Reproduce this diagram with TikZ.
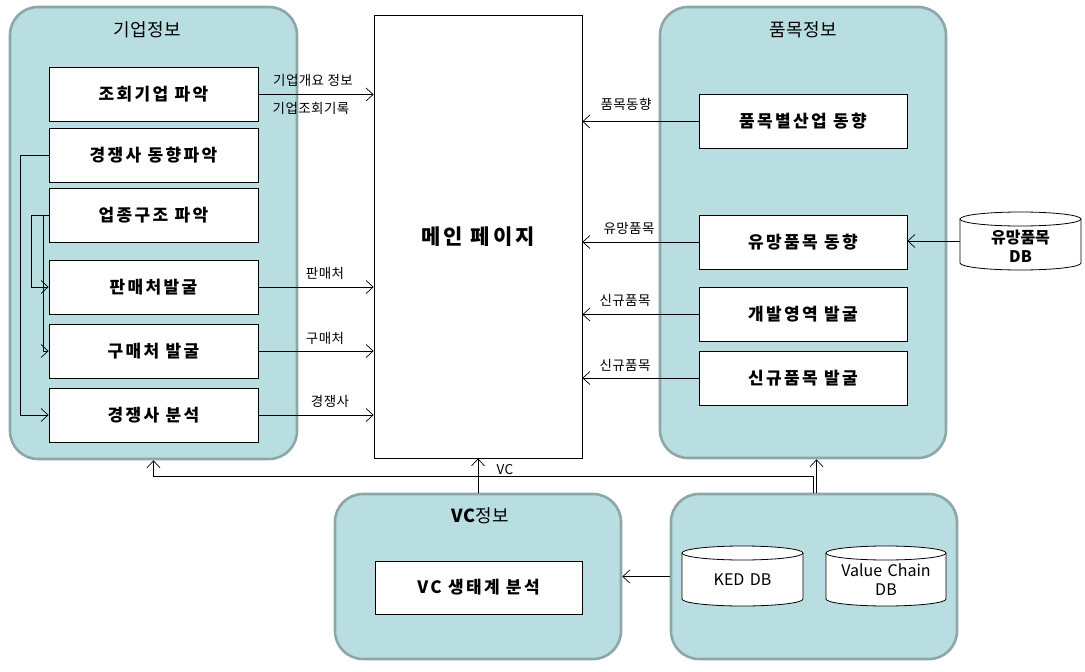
\documentclass[tikz,border=0pt]{standalone}
\usepackage{fontspec}
\setmainfont{Noto Sans CJK KR}
\newfontfamily\krsp[LetterSpace=14]{Noto Sans CJK KR}
\newfontfamily\krlab[LetterSpace=3]{Noto Sans CJK KR}
\usetikzlibrary{arrows.meta}
\definecolor{panelfill}{RGB}{184,222,226}
\definecolor{paneldraw}{RGB}{141,166,168}
\tikzset{
  panel/.style={draw=paneldraw, line width=2.6pt, fill=panelfill, rounded corners=28pt, inner sep=0pt},
  boxnode/.style={draw=black, line width=0.8pt, fill=white, minimum width=209pt, minimum height=54pt, inner sep=0pt, font=\krsp\bfseries\fontsize{17}{20}\selectfont},
  ttl/.style={font=\krlab\fontsize{18}{21}\selectfont, inner sep=0pt},
  lab/.style={font=\krlab\fontsize{13.5}{16}\selectfont, inner sep=0pt},
  arr/.style={draw=black, line width=0.7pt, -{Straight Barb[length=7pt,width=13pt]}},
  dbtext/.style={font=\fontsize{16}{19}\selectfont, align=center, inner sep=0pt, text width=118pt},
}
\newcommand{\dbcyl}[5]{% name, x1, x2, y1, y2
  \pgfmathsetmacro{\cx}{(#2+#3)/2}
  \pgfmathsetmacro{\rx}{(#3-#2)/2}
  \pgfmathsetmacro{\ytop}{#4+7}
  \pgfmathsetmacro{\ybot}{#5-7}
  \fill[white] (#2,\ytop) -- (#2,\ybot) .. controls (#2,\ybot+3.9) and (\cx-0.552*\rx,#5) .. (\cx,#5) .. controls (\cx+0.552*\rx,#5) and (#3,\ybot+3.9) .. (#3,\ybot) -- (#3,\ytop) -- cycle;
  \draw[line width=0.8pt] (#2,\ytop) -- (#2,\ybot) .. controls (#2,\ybot+3.9) and (\cx-0.552*\rx,#5) .. (\cx,#5) .. controls (\cx+0.552*\rx,#5) and (#3,\ybot+3.9) .. (#3,\ybot) -- (#3,\ytop);
  \draw[line width=0.8pt, fill=white] (\cx,\ytop) ellipse [x radius=\rx pt, y radius=7pt];
  \coordinate (#1) at (\cx,{(#4+#5)/2});
  \coordinate (#1-w) at (#2,{(#4+#5)/2});
}
\begin{document}
\begin{tikzpicture}[x=1pt,y=-1pt]
\useasboundingbox (0,0) rectangle (1085,672);
% panels
\node[panel, minimum width=287pt, minimum height=452pt] (lp) at (153.5,233) {};
\node[panel, minimum width=286pt, minimum height=451pt] (rp) at (803,232.5) {};
\node[panel, minimum width=286pt, minimum height=165pt] (vcp) at (478,576.5) {};
\node[panel, minimum width=286pt, minimum height=165pt] (dbp) at (814,576.5) {};
% titles
\node[ttl] (t1) at (147,30) {기업정보};
\node[ttl] (t2) at (803,30) {품목정보};
\node[ttl] (t3) at (480,516) {{\bfseries VC}정보};
% main page
\node[draw=black, line width=0.8pt, fill=white, minimum width=208pt, minimum height=443pt, inner sep=0pt, font=\krsp\bfseries\fontsize{21}{24}\selectfont] (main) at (478,236.5) {메인 페이지};
% left boxes
\node[boxnode] (b1) at (153.5,94.5) {조회기업 파악};
\node[boxnode] (b2) at (153.5,155) {경쟁사 동향파악};
\node[boxnode] (b3) at (153.5,215) {업종구조 파악};
\node[boxnode] (b4) at (153.5,287) {판매처발굴};
\node[boxnode] (b5) at (153.5,351) {구매처 발굴};
\node[boxnode] (b6) at (153.5,415) {경쟁사 분석};
% right boxes
\node[boxnode, minimum width=208pt] (r1) at (803,121.5) {품목별산업 동향};
\node[boxnode, minimum width=208pt] (r2) at (803,242) {유망품목 동향};
\node[boxnode, minimum width=208pt] (r3) at (803,314.5) {개발영역 발굴};
\node[boxnode, minimum width=208pt] (r4) at (803,378) {신규품목 발굴};
% VC box
\node[boxnode, minimum width=207pt, minimum height=53pt] (vcb) at (478.5,587.5) {VC 생태계 분석};
% cylinders
\dbcyl{db1}{960}{1081}{212}{270}
\node[dbtext, font=\bfseries\fontsize{16}{19}\selectfont] (db1t) at (1020.5,246) {유망품목\\DB};
\dbcyl{db2}{682}{803}{546}{606}
\node[dbtext] (db2t) at (742.5,580) {KED DB};
\dbcyl{db3}{826}{946}{546}{606}
\node[dbtext] (db3t) at (886,580) {Value Chain\\DB};
% left internal connectors
\draw[arr] (b2.west) -- ++(-28,0) |- (b6.west);
\draw[arr] (b3.west) -- ++(-17,0) |- (b4.west);
\draw[arr] (b3.west) -- ++(-5,0) |- (b5.west);
% left to main
\draw[arr] (b1.east) -- (b1.east -| main.west);
\draw[arr] (b4.east) -- (b4.east -| main.west);
\draw[arr] (b5.east) -- (b5.east -| main.west);
\draw[arr] (b6.east) -- (b6.east -| main.west);
\node[lab] (l1) at (313,80) {기업개요 정보};
\node[lab] (l2) at (311,108) {기업조회기록};
\node[lab] (l3) at (325,273) {판매처};
\node[lab] (l4) at (325,338) {구매처};
\node[lab] (l5) at (330,401) {경쟁사};
% right to main
\draw[arr] (r1.west) -- (r1.west -| main.east);
\draw[arr] (r2.west) -- (r2.west -| main.east);
\draw[arr] (r3.west) -- (r3.west -| main.east);
\draw[arr] (r4.west) -- (r4.west -| main.east);
\node[lab] (l6) at (626,104) {품목동향};
\node[lab] (l7) at (629,228) {유망품목};
\node[lab] (l8) at (625,300) {신규품목};
\node[lab] (l9) at (625,365) {신규품목};
% db to r2
\draw[arr] (db1-w) -- (db1-w -| r2.east);
% bottom
\draw[arr] (dbp.west) -- (vcp.east |- dbp.west);
\coordinate (jl) at (813.5,476);
\draw[arr] (dbp.north -| jl) -- (jl) -- (jl -| lp.south) -- (lp.south);
\draw[arr] ([xshift=3pt]dbp.north -| jl) -- ([xshift=3pt]jl |- rp.south);
\draw[arr] (vcp.north) -- (vcp.north |- main.south);
\node[lab] (l10) at (505,470) {VC};
\end{tikzpicture}
\end{document}
